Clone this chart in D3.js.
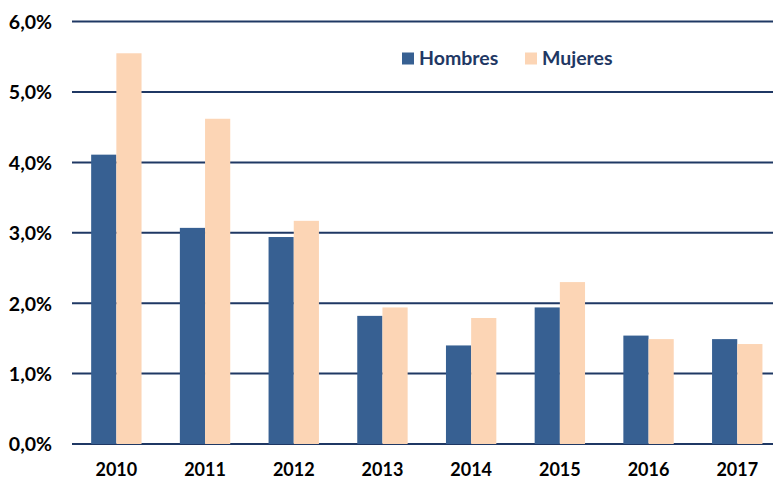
<!DOCTYPE html>
<html><head><meta charset="utf-8">
<script src="https://cdn.jsdelivr.net/npm/d3@7"></script>
<style>body{margin:0;background:#fff}svg{display:block}text{font-family:Lato,"Open Sans",sans-serif;font-weight:bold}</style>
</head><body>
<script>
const years = ["2010","2011","2012","2013","2014","2015","2016","2017"];
const hombres = [4.11,3.07,2.94,1.82,1.40,1.94,1.54,1.49];
const mujeres = [5.55,4.62,3.17,1.94,1.79,2.30,1.49,1.42];
const seriesNames = ["Hombres","Mujeres"];
const seriesColors = ["#376092","#FCD5B5"];
const yTicks = [0,1,2,3,4,5,6];

const W=773,H=479;
const svg=d3.select("body").append("svg").attr("width",W).attr("height",H);
const x=d3.scaleBand().domain(years).range([72,781.6]).paddingInner(0.432).paddingOuter(0.216);
const xs=d3.scaleBand().domain(seriesNames).range([0,x.bandwidth()]);
const y=d3.scaleLinear().domain([0,6]).range([444,21.6]);

// gridlines
svg.append("g").selectAll("line").data(yTicks).join("line")
 .attr("x1",72).attr("x2",W).attr("y1",d=>y(d)).attr("y2",d=>y(d))
 .attr("stroke","#1F3864").attr("stroke-width",2);

// y labels
const yAxis=d3.axisLeft(y).tickValues(yTicks).tickSize(0).tickPadding(0)
 .tickFormat(d=>d3.format(".1f")(d).replace(".",",")+"%");
const ga=svg.append("g").attr("transform","translate(52,0)").call(yAxis);
ga.select(".domain").remove();
ga.selectAll("text").attr("font-size",19.5).attr("fill","#000").attr("font-family","Lato").attr("dy","0.35em");

// bars
const data=years.map((yr,i)=>({yr,vals:[hombres[i],mujeres[i]]}));
const groups=svg.append("g").selectAll("g").data(data).join("g")
 .attr("transform",d=>`translate(${x(d.yr)},0)`);
groups.selectAll("rect").data(d=>d.vals.map((v,j)=>({v,s:seriesNames[j],c:seriesColors[j]}))).join("rect")
 .attr("x",d=>xs(d.s)).attr("width",xs.bandwidth()).attr("y",d=>y(d.v)).attr("height",d=>y(0)-y(d.v))
 .attr("fill",d=>d.c);

// x labels
const xAxis=d3.axisBottom(x).tickSize(0).tickPadding(0);
const gx=svg.append("g").attr("transform","translate(0,470)").call(xAxis);
gx.select(".domain").remove();
gx.selectAll("text").attr("font-size",18).attr("fill","#000").attr("font-family","Lato").attr("dy","0.35em");

// legend
const lx=[402,525];
const lg=svg.append("g").selectAll("g").data(seriesNames).join("g")
 .attr("transform",(d,i)=>`translate(${lx[i]},52.5)`);
lg.append("rect").attr("width",12).attr("height",12).attr("fill",(d,i)=>seriesColors[i]);
lg.append("text").attr("x",17).attr("y",6).attr("dy","0.35em").attr("font-size",19.5)
 .attr("fill","#1F3864").text(d=>d);
</script>
</body></html>
